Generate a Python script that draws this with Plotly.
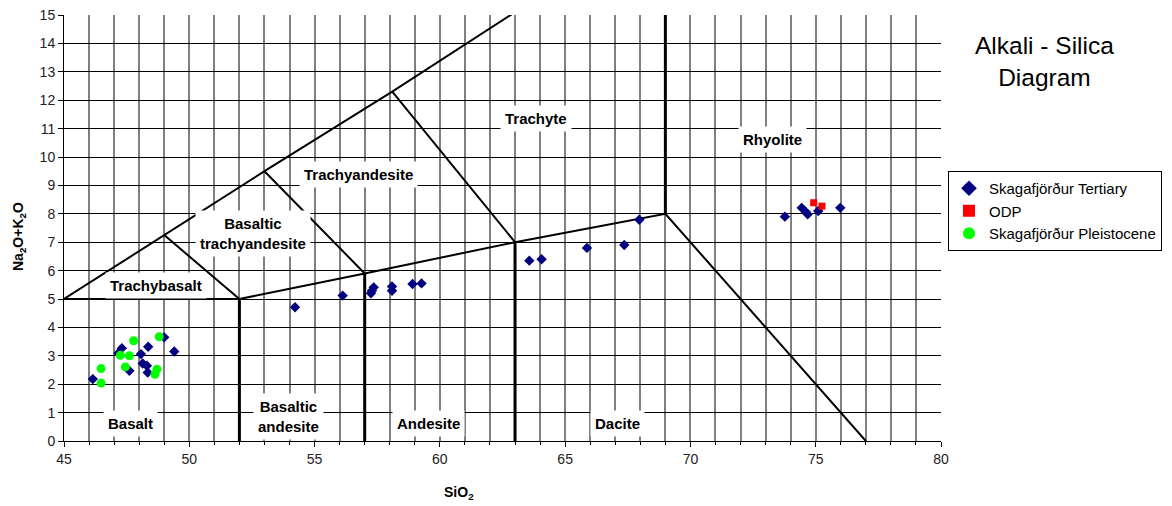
import plotly.graph_objects as go

# Data
tert_x = [46.15, 47.31, 47.17, 47.61, 48.36, 48.07, 48.14, 48.31, 48.34, 49.0, 49.4,
          54.22, 56.12, 57.25, 57.36, 57.29, 58.09, 58.09, 58.91, 59.27,
          63.57, 64.06, 65.87, 67.36, 67.96,
          73.77, 74.44, 74.61, 74.68, 75.1, 75.98]
tert_y = [2.18, 3.27, 3.09, 2.47, 3.32, 3.06, 2.73, 2.65, 2.41, 3.65, 3.15,
          4.71, 5.12, 5.2, 5.41, 5.29, 5.44, 5.29, 5.53, 5.55,
          6.35, 6.4, 6.8, 6.9, 7.79,
          7.9, 8.21, 8.06, 7.98, 8.1, 8.21]
odp_x = [74.92, 75.25]
odp_y = [8.39, 8.27]
plei_x = [46.48, 46.48, 47.78, 47.25, 47.61, 47.45, 48.8, 48.71, 48.63]
plei_y = [2.55, 2.04, 3.53, 3.02, 3.0, 2.61, 3.67, 2.53, 2.35]

# TAS field boundaries
upper_x = [45, 49.0, 53.0, 58.1, 63.0]
upper_y = [5, 7.25, 9.5, 12.3, 15.1]
lower_x = [45, 52, 57, 63, 69, 77]
lower_y = [5, 5, 5.9, 7, 8, 0]
inner_lines = [([49.0, 52], [7.25, 5]), ([53.0, 57], [9.5, 5.9]), ([58.1, 63], [12.3, 7])]
vert_lines = [([52, 52], [0, 5]), ([57, 57], [0, 5.9]), ([63, 63], [0, 7]), ([69, 69], [8, 15])]

field_names = ["Trachybasalt", "Basaltic<br>trachyandesite", "Trachyandesite", "Trachyte",
               "Rhyolite", "Basalt", "Basaltic<br>andesite", "Andesite", "Dacite"]
field_x = [48.67, 52.54, 56.77, 63.83, 73.29, 47.67, 53.94, 59.53, 67.1]
field_y = [5.47, 7.3, 9.4, 11.37, 10.6, 0.63, 0.88, 0.63, 0.63]

FONT = "Arial, Liberation Sans, sans-serif"

# layout geometry (page has ~7px body offset)
OFF = 7
L, R, T, B = 56, 239, 7, 73
PW = 1172 - L - R
PH = 506 - T - B


def px_x(p):
    return (p - OFF - L) / PW


def px_y(p):
    return (506 - B - (p - OFF)) / PH


fig = go.Figure()

for lx, ly in [(upper_x, upper_y), (lower_x, lower_y)] + inner_lines:
    fig.add_trace(go.Scatter(x=lx, y=ly, mode="lines", line=dict(color="black", width=2),
                             showlegend=False, hoverinfo="skip"))
for lx, ly in vert_lines:
    fig.add_trace(go.Scatter(x=lx, y=ly, mode="lines", line=dict(color="black", width=3),
                             showlegend=False, hoverinfo="skip"))

for name, fx, fy in zip(field_names, field_x, field_y):
    fig.add_annotation(x=fx, y=fy, text="<b>%s</b>" % name, showarrow=False,
                       font=dict(family=FONT, size=15, color="black"),
                       bgcolor="white", borderpad=4)

fig.add_trace(go.Scatter(x=tert_x, y=tert_y, mode="markers", name="Skagafjörður Tertiary",
                         marker=dict(symbol="diamond", color="#000080", size=8)))
fig.add_trace(go.Scatter(x=odp_x, y=odp_y, mode="markers", name="ODP",
                         marker=dict(symbol="square", color="#ff0000", size=7)))
fig.add_trace(go.Scatter(x=plei_x, y=plei_y, mode="markers", name="Skagafjörður Pleistocene",
                         marker=dict(symbol="circle", color="#00ff00", size=9)))

# chart title
fig.add_annotation(xref="paper", yref="paper", x=px_x(1043), y=px_y(60),
                   text="Alkali - Silica<br>Diagram", showarrow=False, xanchor="center", yanchor="middle",
                   font=dict(family=FONT, size=24.5, color="black"))

# axis titles
fig.add_annotation(xref="paper", yref="paper", x=px_x(458), y=px_y(492),
                   text="<b>SiO<sub>2</sub></b>", showarrow=False, xanchor="center", yanchor="middle",
                   font=dict(family=FONT, size=14, color="black"))
fig.add_annotation(xref="paper", yref="paper", x=px_x(18), y=px_y(236), textangle=-90,
                   text="<b>Na<sub>2</sub>O+K<sub>2</sub>O</b>", showarrow=False,
                   xanchor="center", yanchor="middle",
                   font=dict(family=FONT, size=14, color="black"))

fig.update_layout(
    width=1172, height=506,
    margin=dict(l=L, r=R, t=T, b=B, autoexpand=False),
    paper_bgcolor="white", plot_bgcolor="white",
    font=dict(family=FONT, size=13, color="#222222"),
    legend=dict(x=px_x(947), y=px_y(170), xanchor="left", yanchor="top",
                bordercolor="black", borderwidth=1, bgcolor="white",
                font=dict(family=FONT, size=15, color="black"),
                tracegroupgap=0, itemsizing="constant", itemwidth=30),
    xaxis=dict(range=[45, 80], dtick=5, tick0=45, showgrid=True, gridcolor="#808080", gridwidth=1.5,
               minor=dict(dtick=1, showgrid=True, gridcolor="#808080", gridwidth=1.5,
                          ticks="outside", ticklen=3, tickcolor="black"),
               showline=True, linecolor="black", linewidth=1, ticks="outside", ticklen=5,
               tickcolor="black", zeroline=False, automargin=False, ticklabeloverflow="allow",
               tickfont=dict(family=FONT, size=14, color="#222222")),
    yaxis=dict(range=[0, 15], dtick=1, showgrid=True, gridcolor="black", gridwidth=1,
               showline=True, linecolor="black", linewidth=1, ticks="outside", ticklen=5,
               tickcolor="black", zeroline=False, automargin=False, ticklabeloverflow="allow",
               tickfont=dict(family=FONT, size=14, color="#222222")),
)

fig.write_html("out.html")
